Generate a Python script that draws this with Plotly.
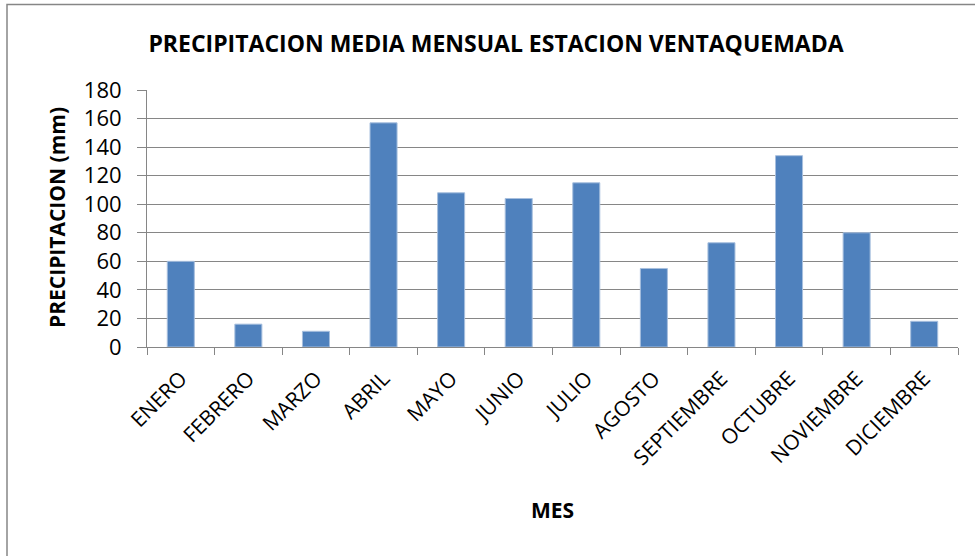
import plotly.graph_objects as go

meses = ['ENERO', 'FEBRERO', 'MARZO', 'ABRIL', 'MAYO', 'JUNIO', 'JULIO',
         'AGOSTO', 'SEPTIEMBRE', 'OCTUBRE', 'NOVIEMBRE', 'DICIEMBRE']
precipitacion = [60, 16, 11, 157, 108, 104, 115, 55, 73, 134, 80, 18]
y_ticks = [0, 20, 40, 60, 80, 100, 120, 140, 160, 180]

grid = '#868686'
fuente = 'Open Sans'

fig = go.Figure(go.Bar(
    x=meses, y=precipitacion,
    marker=dict(color='#4F81BD', line=dict(color='#a7bfde', width=1)),
))

fig.update_layout(
    width=975, height=556,
    margin=dict(l=147, r=17, t=90, b=209),
    paper_bgcolor='white', plot_bgcolor='white',
    bargap=0.6,
    showlegend=False,
    font=dict(family=fuente, color='black'),
    title=dict(text='<b>PRECIPITACION MEDIA MENSUAL ESTACION VENTAQUEMADA</b>',
               x=496 / 975, xref='container', xanchor='center',
               y=1 - 44 / 556, yref='container', yanchor='middle',
               font=dict(size=23, family=fuente, color='black')),
)

fig.update_yaxes(
    range=[0, 180], tickvals=y_ticks,
    showgrid=True, gridcolor=grid, gridwidth=1,
    showline=True, linecolor=grid, linewidth=1,
    ticks='outside', ticklen=9, tickcolor=grid,
    ticklabelstandoff=11,
    tickfont=dict(size=22, family=fuente, color='black'),
    zeroline=False, fixedrange=True,
)
fig.update_xaxes(
    showline=True, linecolor=grid, linewidth=1,
    ticks='outside', tickson='boundaries', ticklen=7, tickcolor=grid,
    tickangle=-45, ticklabelstandoff=10,
    tickfont=dict(size=21, family=fuente, color='black'),
    fixedrange=True,
)

# axis titles
fig.add_annotation(text='<b>PRECIPITACION (mm)</b>', textangle=-90,
                   xref='paper', yref='paper', x=(57 - 147) / 811, y=0.502,
                   xanchor='center', yanchor='middle',
                   showarrow=False, font=dict(size=21, family=fuente, color='black'))
fig.add_annotation(text='<b>MES</b>',
                   xref='paper', yref='paper', x=0.5, y=(347 - 510) / 257,
                   xanchor='center', yanchor='middle',
                   showarrow=False, font=dict(size=21, family=fuente, color='black'))

# chart border
fig.add_shape(type='rect', xref='paper', yref='paper',
              x0=(7 - 147) / 811, x1=(980 - 147) / 811,
              y0=(347 - 565) / 257, y1=(347 - 4.5) / 257,
              line=dict(color=grid, width=1.5), layer='below')

# page body has a default margin; drop it so the figure sits at the window origin
fig.write_html('out.html', config={'displayModeBar': False},
               post_script="document.body.style.margin='0';")
